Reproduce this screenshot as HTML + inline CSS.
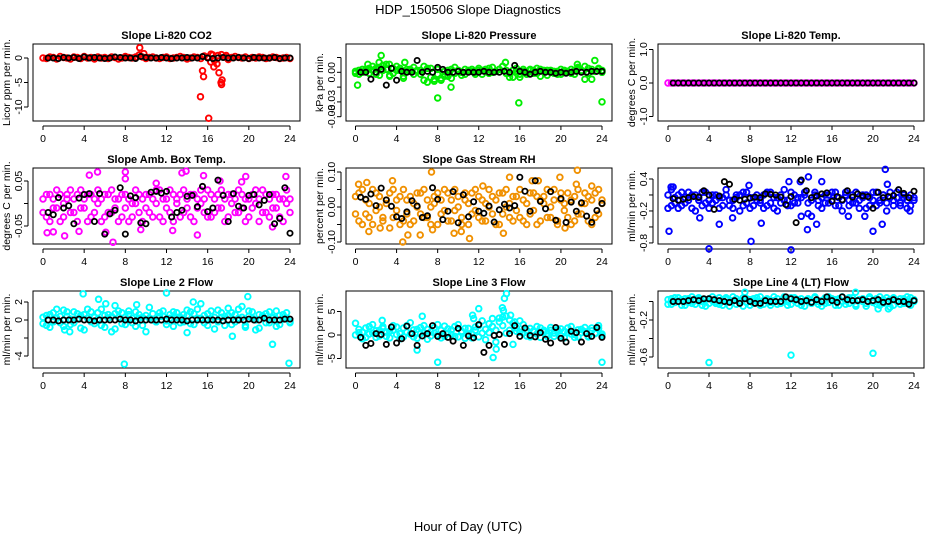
<!DOCTYPE html>
<html><head><meta charset="utf-8">
<style>
html,body{margin:0;padding:0;background:#fff;}
svg{display:block;font-family:"Liberation Sans",sans-serif;}
</style></head>
<body>
<svg id="chart" width="936" height="540" viewBox="0 0 936 540" xmlns="http://www.w3.org/2000/svg">
<text x="468" y="14" text-anchor="middle" font-size="13">HDP_150506  Slope Diagnostics</text>
<text x="468" y="531" text-anchor="middle" font-size="13">Hour of Day (UTC)</text>
</svg>
<script>
// x tick categories
const hourTicks = [0,4,8,12,16,20,24];
const hourLabels = ["0","4","8","12","16","20","24"];

// CO2
const co2Main = [0,-0.1,0.2,0.1,-0.2,0.3,0.1,0,-0.2,0.2,0.1,-0.1,0.3,0,0.1,-0.2,0.2,0,0.1,-0.1,0.2,0.1,-0.2,0,0.3,0.1,0,0.2,0.6,0.2,-0.1,0.1,0.2,0,-0.1,0.1,0.2,-0.1,0,0.1,0.3,0.1,-0.2,0,0.2,0.1,-0.1,0.4,0.2,0.8,-0.5,0.5,0.7,0.2,-0.3,0.1,0.3,0.1,0,0.2,-0.1,0.1,0,0.2,0.1,-0.1,0,0.2,0.1,-0.1,0,0.1,-0.1];
const co2Outliers = [[9.4,2.1],[9.8,0.9],[15.3,-7.9],[15.5,-2.6],[15.6,-3.8],[16.1,-12.3],[16.3,-0.8],[16.6,-1.8],[16.9,-1.2],[17.1,-3.0],[17.3,-5.0],[17.4,-4.5],[17.35,-5.4],[16.5,0.6],[17.8,0.5]];
const co2Black = [0,0,-0.1,0.1,0,0.1,-0.1,0.2,0,0.1,0,-0.1,0,0.2,0.1,0,0,-0.1,0.3,0.1,0,0,0.1,0,-0.1,0,0,0.1,0,0,0.3,0,-0.1,0,0.1,0,0,0.1,0,-0.1,0.1,0,0,0,0.1,-0.1,0,0];

// Pressure
const presMain = [-0.001,0.002,0.003,0.001,0.004,0.006,-0.002,0.005,0.007,0.003,-0.003,0.004,0.006,0.002,-0.004,0.003,0.001,0.005,0.002,-0.002,0.006,0.004,-0.005,-0.007,0.003,-0.008,-0.004,0.002,-0.006,0.005,0.001,-0.003,0.003,0.002,0.001,-0.002,0.004,0.002,0.003,-0.001,0.005,0.001,0.003,0.006,-0.001,-0.001,0.002,0.004,-0.005,0.001,-0.002,0.003,0.002,-0.001,0.003,0.002,-0.003,0.002,0.001,-0.002,0.003,0,0.001,-0.001,0.002,0.004,0.001,0.006,-0.001,0.003,0.001,0.004,0.002];
const presMain2 = [0.001,-0.002,0,0.003,-0.001,0.002,0.004,-0.003,0.002,0.008,-0.004,-0.001,0.002,0.004,-0.006,0.001,0.003,-0.002,0.001,0.002,-0.008,-0.010,0.004,-0.009,-0.002,-0.006,0.001,-0.004,0.003,-0.001,0.002,0,-0.002,0.001,0.003,0,0.002,-0.002,0.001,0.004,0,0.001,0.003,0.006,0.002,-0.005,-0.005,0.001,-0.002,0.003,0,0.002,-0.001,0.004,-0.004,0.001,0.002,0,-0.001,0.001,-0.002,0.002,0.001,0.003,-0.002,0.005,0.002,-0.007,0.004,-0.007,0.001,0.003,0];
const presOutliers = [[0.2,-0.013],[2.5,0.017],[8.0,-0.026],[9.3,-0.015],[15.9,-0.031],[24,-0.030],[1.2,0.008],[2.3,0.010],[14.6,0.010],[23.3,0.012],[21.6,0.008],[3.3,0.008],[4.8,0.010]];
const presBlack = [0,0,-0.007,0,0.003,-0.013,0.004,-0.008,0.001,0,0,0.012,0,0.001,0,0.005,0.003,0,0,0.001,0,0,0,0,0.001,0,0,0,0.001,0,0.007,0.001,0,-0.002,0,0.001,0,0,-0.001,0,-0.001,0,0.001,0,0,0.001,0.001,0.001];

// Li-820 Temp
const tempMain = [0,0,0,0,0,0,0,0,0,0,0,0,0,0,0,0,0,0,0,0,0,0,0,0,0,0,0,0,0,0,0,0,0,0,0,0,0,0,0,0,0,0,0,0,0,0,0,0,0,0,0,0,0,0,0,0,0,0,0,0,0,0,0,0,0,0,0,0,0,0,0,0,0];
const tempBlack = [0,0,0,0,0,0,0,0,0,0,0,0,0,0,0,0,0,0,0,0,0,0,0,0,0,0,0,0,0,0,0,0,0,0,0,0,0,0,0,0,0,0,0,0,0,0,0,0];

// Amb box temp
const ambMain = [0.01,-0.03,0.02,-0.01,0.03,-0.04,0,0.02,-0.02,0.01,-0.04,0.03,-0.01,0.02,-0.03,0.01,0,-0.04,0.02,-0.02,0.03,-0.01,0.01,-0.03,0.02,-0.04,0,0.03,-0.02,0.01,-0.01,0.02,-0.03,0,0.03,-0.04,0.01,-0.02,0.02,0,-0.03,0.03,-0.01,0.02,-0.04,0.01,0,-0.02,0.03,-0.03,0.01,0.02,-0.01,-0.04,0.02,0,-0.02,0.03,-0.01,0.01,-0.03,0.02,0,-0.04,0.03,-0.02,0.01,-0.01,0.02,-0.03,0.01,0.03,-0.02];
const ambMain2 = [-0.02,0.02,-0.04,0.01,-0.01,0.02,-0.03,0.01,0.03,-0.02,0.02,-0.01,0.01,-0.04,0.02,-0.02,0.03,0.01,-0.03,0.02,-0.02,0.01,-0.04,0.02,-0.01,0.01,-0.03,0,0.02,-0.04,0.02,-0.02,0.01,0.03,-0.03,0.01,-0.01,0.03,-0.04,0.01,0.02,-0.02,0.01,-0.03,0.02,-0.01,0.03,0.01,-0.03,0.02,-0.02,-0.01,0.03,0.01,-0.03,0.02,0.01,-0.02,0.02,-0.04,0.01,-0.01,0.03,0.01,-0.02,0.02,-0.03,0.02,-0.01,0.01,-0.04,0,0.01];
const ambOutliers = [[0.4,-0.065],[1.0,-0.063],[2.1,-0.072],[3.5,-0.062],[4.5,0.063],[5.3,0.07],[6.1,-0.064],[6.8,-0.086],[8.0,0.07],[8.0,0.055],[11.0,0.045],[12.6,-0.06],[13.5,0.068],[13.9,0.072],[15.0,-0.07],[15.6,0.062],[17.2,0.05],[19.7,0.06],[22.3,-0.052],[23.6,0.06],[9.5,-0.058],[19.3,0.048]];
const ambBlack = [-0.02,-0.025,0.013,-0.01,-0.005,-0.045,0.012,0.02,0.022,-0.04,0.022,-0.068,-0.023,-0.015,0.035,-0.068,0.017,0.013,-0.043,-0.045,0.025,0.027,0.023,0.027,-0.03,-0.02,-0.015,0.016,0.018,-0.007,0.038,-0.018,-0.01,0.052,0.018,-0.04,0.022,-0.006,-0.01,0.018,0.02,-0.003,0.007,0.02,-0.045,-0.033,0.035,-0.066];

// Gas stream RH
const rhMain = [0.03,-0.04,0.05,-0.02,0.01,-0.05,0.04,0,-0.03,0.02,-0.06,0.05,-0.01,0.03,-0.04,0.02,-0.05,0.01,0.04,-0.02,0.05,-0.03,0,0.03,-0.05,0.02,-0.01,0.04,-0.04,0.05,0,-0.03,0.02,-0.05,0.04,-0.01,0.03,-0.04,0.01,0.05,-0.02,0.02,-0.05,0.04,0,-0.03,0.03,-0.01,0.05,-0.04,0.01,-0.02,0.04,-0.05,0.02,0.03,-0.03,0,0.05,-0.04,0.02,-0.01,0.04,-0.05,0.03,-0.02,0.01,0.04,-0.04,0.02,-0.03,0.05,0.01];
const rhMain2 = [-0.02,0.04,-0.05,0.02,-0.03,0.05,-0.01,0.03,-0.04,0.01,0.04,-0.03,0.02,-0.05,0.05,-0.02,0.03,-0.04,0,0.04,-0.03,0.02,-0.05,0.01,0.04,-0.02,0.05,-0.04,0.02,-0.01,0.03,-0.05,0.04,0.01,-0.02,0.05,-0.03,0.02,-0.04,0,0.03,-0.05,0.04,-0.02,0.05,0.01,-0.04,0.03,-0.03,0.02,-0.05,0.04,-0.01,0.03,-0.04,0.01,0.05,-0.03,0.02,-0.05,0.04,0.01,-0.03,0.02,-0.04,0.05,-0.02,0.01,0.03,-0.05,0.04,-0.02,0.02];
const rhOutliers = [[0.3,0.065],[1.1,0.07],[2.4,-0.06],[3.6,0.075],[4.6,-0.1],[5.1,-0.08],[6.3,-0.08],[7.4,0.1],[7.5,-0.065],[9.6,-0.075],[10.3,-0.07],[11.1,-0.09],[12.4,0.06],[14.4,-0.075],[15.0,0.085],[17.2,0.075],[17.8,0.075],[19.9,0.085],[20.4,-0.06],[21.6,0.105],[21.5,0.065],[23.0,0.06],[1.3,-0.07]];
const rhBlack = [0.028,0.022,0.037,0.004,0.054,0.02,0.002,-0.028,-0.033,-0.014,0.018,0.003,-0.03,-0.025,0.055,0.022,-0.036,-0.012,0.044,-0.045,0.035,-0.028,0.015,-0.012,-0.018,0.003,-0.043,-0.008,0.008,-0.003,0.004,0.085,0.045,-0.012,0.075,0.016,-0.005,0.044,-0.038,0.024,-0.044,0.014,-0.012,0.012,-0.026,-0.044,-0.01,0.01];

// Sample flow
const sfMain = [0.1,-0.1,0.05,-0.15,0.15,-0.05,0,0.1,-0.2,0.05,-0.1,0.15,0,-0.05,0.1,-0.15,0.05,0.2,-0.1,0,0.1,-0.2,0.15,-0.05,0.05,-0.1,0.1,0,-0.15,0.15,-0.05,0.05,-0.2,0.1,0,-0.1,0.15,-0.05,0.05,-0.3,0.1,-0.25,0,0.15,-0.1,0.05,-0.05,0.1,0,0.15,-0.1,-0.2,0.1,0,-0.05,0.15,-0.15,0.05,0.1,-0.1,0,0.15,-0.05,0.1,-0.2,0.05,0,0.15,-0.1,0.05,-0.15,0.1,0];
const sfMain2 = [-0.15,0.2,-0.05,0.1,-0.1,0.05,0.15,-0.15,0.1,0,0.15,-0.05,-0.15,0.1,0,0.05,-0.1,0.1,0,-0.15,0.05,0.1,-0.1,0.15,-0.15,0.05,0,-0.05,0.1,-0.1,0.15,-0.15,0.05,-0.05,0.2,0,-0.1,0.1,-0.05,0.05,0.15,-0.05,-0.3,0.1,0,-0.15,0.1,-0.05,0.15,-0.1,0.05,0,0.15,-0.1,0.1,-0.05,0,0.1,-0.15,0.05,0.15,-0.1,0,0.1,-0.05,0.15,-0.1,0.05,-0.05,0.1,0,-0.1,0.05];
const sfOutliers = [[0.1,-0.58],[0.3,0.25],[0.5,0.25],[3.1,-0.33],[4,-0.91],[5.0,-0.45],[6.3,-0.33],[8.1,-0.77],[7.9,0.28],[9.1,-0.43],[11.8,0.35],[12,-0.93],[12.9,0.35],[13.7,0.44],[13.6,-0.55],[14.5,-0.45],[15,0.35],[17.6,-0.3],[19.2,-0.3],[20,-0.58],[21.2,0.58],[21.4,0.3],[20.9,-0.45],[23.6,-0.2]];
const sfBlack = [0.03,0,0.02,0.05,0.07,0.06,0.18,0.1,-0.17,0.08,0.35,0.3,0.02,0,0.02,0.04,0.06,0.05,0.12,0.11,0.1,0.06,-0.08,0.07,-0.42,0.38,0.18,0.05,0.08,0.12,0.14,-0.02,0.07,0.01,0.18,0.06,0.12,0.08,0.07,-0.15,0.15,0.05,0.07,0.09,0.2,0.13,0.05,0.17];

// Line 2 flow
const l2Main = [-0.4,0.5,-0.8,0.8,0.2,-0.3,1.1,0.4,-0.5,0.9,0.1,-0.9,0.6,1.2,-0.2,0.3,0.8,-0.6,0.5,0.2,-1.3,0.7,1.0,-0.4,0.3,0.6,-0.3,0.9,0.2,-0.6,0.5,1.4,0,-0.2,0.8,0.4,-0.5,0.2,0.9,0.3,-0.3,0.6,1.1,-0.4,0.7,0.2,1.8,0.5,-0.6,1.0,0.3,-0.2,0.8,0.4,1.3,-0.5,0.6,0.2,1.5,-0.8,0.4,0.9,0,-0.9,0.5,0.7,-0.3,0.3,1.0,-0.5,0.6,0.2,-0.3];
const l2Main2 = [0.3,-0.6,0.6,-0.2,1.2,0.4,-0.7,0.9,0.1,-0.3,0.7,0.5,-1.1,0.2,0.9,-0.4,0.1,1.2,-0.8,0.6,0.4,-1.0,0.3,0.8,-0.5,1.0,0.2,-0.7,0.6,0.3,-1.3,0.2,0.7,-0.2,0.4,1.0,-0.1,0.6,-0.7,0.8,0.3,-0.2,0.5,0.9,-0.5,1.2,0.2,-0.3,0.7,0.1,-1.0,1.1,0.3,-0.6,0.5,0.8,-0.2,1.2,0.3,-0.6,1.0,0.2,-1.1,0.6,0.4,-0.3,0.9,0.2,-0.7,0.5,0.1,0.8,-0.2];
const l2Outliers = [[3.9,2.9],[5.4,2.3],[6.1,1.8],[9.1,1.7],[12,3.0],[14.0,-1.4],[14.6,2.0],[18.4,-1.8],[19.9,2.6],[22.3,-2.7],[7.9,-4.9],[23.9,-4.8],[2.1,-1.1],[2.6,-1.3],[7.0,1.6]];
const l2Black = [0,0,-0.1,0,0,0,0.1,0,0,-0.1,0,0,0,0,0.1,0,0,-0.1,0,0,0,0,0,0.1,0,0,0,-0.1,0,0,0,0,0,0,-0.1,0,0,0,0,0.1,0,0,0.2,0,0,0,0.1,0.1];

// Line 3 flow
const l3Main = [2.5,0.5,-0.8,1.5,0.2,2.2,-0.5,1.0,1.8,-0.3,0.8,2.0,0.1,-0.8,1.5,0.6,2.6,-0.4,1.2,0.3,2.0,-0.9,0.7,1.6,0,-0.6,1.9,0.4,1.1,-0.3,2.2,0.8,-0.7,1.4,0.2,1.7,-0.4,3.0,1.2,0.5,3.5,1.0,2.8,3.8,0.4,3.2,2.5,1.5,0.6,2.2,-0.2,1.4,0.7,1.8,-0.5,1.0,0.3,1.6,-0.3,0.9,1.3,-0.6,0.5,1.8,0.1,-0.4,1.2,0.7,-0.2,1.5,0.4,2.0,0.2];
const l3Main2 = [0,1.2,0.6,-0.5,1.8,0.4,0.9,-0.2,1.4,0.6,-0.6,1.0,1.7,0.3,-0.4,2.0,0.2,1.1,-0.7,1.6,0.5,1.2,-0.2,0.4,2.2,1.0,-0.3,1.3,0.1,1.8,-0.4,0.6,1.4,0.2,-0.6,1.0,2.0,0.4,-1.0,2.4,1.8,-1.5,3.6,2.0,4.0,1.0,-2.0,0.8,3.0,0.4,1.0,-0.4,0.9,0.2,1.5,0.6,-0.3,1.0,0.4,1.2,-0.2,0.8,1.5,0.2,-0.5,1.1,0.5,1.6,-0.4,0.9,0.3,1.4,-0.2];
const l3Outliers = [[6,-3.2],[6.5,4.0],[8,-5.8],[11.5,3.5],[11.4,4.2],[12,5.6],[13.4,-4.8],[13.7,-3.0],[14.3,5.8],[14.4,5.2],[14.5,7.8],[14.7,8.8],[15.1,4.2],[15.5,2.8],[24,-5.8],[2.6,3.1]];
const l3Black = [-0.5,-2.2,-1.8,0.3,0.1,-2.0,1.7,-1.7,-0.8,1.9,0.3,-2.2,-0.2,0.3,2.0,-0.3,0.3,-0.5,-1.3,1.4,-2.2,-0.2,-0.6,2.2,-3.7,-2.2,-0.1,0.1,-2.0,0.3,2.0,-0.3,1.5,-0.1,-0.4,0.5,-0.9,-1.7,1.6,-0.7,-1.5,0.8,0.5,-1.5,0.3,-0.3,1.6,-0.5];

// Line 4 flow
const l4Main = [0.02,-0.03,0.04,0,-0.04,0.03,-0.01,0.05,-0.03,0.02,0,-0.05,0.03,0.01,-0.02,0.04,-0.04,0.02,0,0.05,-0.03,0.01,-0.05,0.03,0.02,-0.02,0.04,-0.04,0.01,0.03,-0.01,0.05,-0.03,0,0.02,-0.04,0.04,0.01,-0.02,0.03,-0.05,0.02,0,0.04,-0.03,0.01,-0.02,0.05,0.02,-0.04,0.03,0,-0.03,0.04,0.01,-0.05,0.02,0.03,-0.02,0.05,-0.01,0.03,-0.04,0.02,0,-0.06,0.04,0.01,-0.03,0.03,-0.02,0.04,0];
const l4Main2 = [-0.03,0.03,-0.01,0.04,0.02,-0.04,0.03,-0.02,0.01,0.04,-0.04,0.02,-0.02,0.05,0,-0.03,0.02,0.04,-0.05,0.01,0.03,-0.02,0.04,-0.01,-0.04,0.03,0,0.05,-0.03,0.02,-0.04,0.01,0.03,-0.02,0.05,0,-0.03,0.04,0.02,-0.04,0.01,0.03,-0.02,0.05,0,-0.05,0.04,-0.01,0.03,0.02,-0.04,0.05,0.01,-0.02,0.04,-0.03,0.02,0,-0.05,0.03,0.01,-0.03,0.05,-0.02,0.04,0.02,-0.04,0,0.03,-0.02,0.05,-0.04,0.02];
const l4Outliers = [[4,-0.66],[12,-0.58],[20,-0.56],[7.5,0.1],[18.3,0.1],[20.5,-0.08],[21.5,-0.08]];
const l4Black = [0,0,0,0.01,0.02,0.01,0.03,0.03,0.02,0.01,0,-0.01,0.01,-0.02,0.03,0,-0.02,-0.02,0.01,0,0,0,0.05,0.03,0.02,0,0.01,-0.01,0.02,0,0.05,0.01,-0.01,0.05,0.02,0.01,0.01,0.02,0,0.01,0.02,-0.01,0,0.02,0,0,-0.03,0.01];

// y-axis tick values and labels
const co2Ticks=[0,-5,-10], co2TickLabels=["0","-5","-10"];
const presTicks=[0.015,0,-0.015,-0.03,-0.045], presTickLabels=["","0.00","","-0.03","-0.03"];
const tempTicks=[1,0,-1], tempTickLabels=["1.0","0.0","-1.0"];
const ambTicks=[0.05,0,-0.05], ambTickLabels=["0.05","","-0.05"];
const rhTicks=[0.1,0.05,0,-0.05,-0.1], rhTickLabels=["0.10","","0.00","","-0.10"];
const sfTicks=[0.4,0.1,-0.2,-0.5,-0.8], sfTickLabels=["0.4","","-0.2","","-0.8"];
const l2Ticks=[2,0,-2,-4], l2TickLabels=["2","0","","-4"];
const l3Ticks=[5,0,-5], l3TickLabels=["5","0","-5"];
const l4Ticks=[0,-0.2,-0.4,-0.6], l4TickLabels=["","-0.2","","-0.6"];

const NS="http://www.w3.org/2000/svg";
const svg=document.getElementById('chart');
const colLeft=[33,346,658], colRight=[300,612,924], colX0=[43,355.5,668], colX24=[290,602,914];
const rowTop=[44,168,291], rowBot=[121,244,368];

const panels=[
 {name:'co2',title:'Slope Li-820 CO2',ylab:'Licor ppm per min.',c:0,r:0,y0:58,k:4.9,color:'#ff0000',mains:[co2Main],out:co2Outliers,black:co2Black,ticks:co2Ticks,tl:co2TickLabels},
 {name:'pressure',title:'Slope Li-820 Pressure',ylab:'kPa per min.',c:1,r:0,y0:72.3,k:986.7,color:'#00ee00',mains:[presMain,presMain2],out:presOutliers,black:presBlack,ticks:presTicks,tl:presTickLabels},
 {name:'li820-temp',title:'Slope Li-820 Temp.',ylab:'degrees C per min.',c:2,r:0,y0:83,k:33.5,color:'#ff00ff',mains:[tempMain],out:[],black:tempBlack,ticks:tempTicks,tl:tempTickLabels},
 {name:'amb-box-temp',title:'Slope Amb. Box Temp.',ylab:'degrees C per min.',c:0,r:1,y0:203.5,k:450,color:'#ff00ff',mains:[ambMain,ambMain2],out:ambOutliers,black:ambBlack,ticks:ambTicks,tl:ambTickLabels},
 {name:'gas-stream-rh',title:'Slope Gas Stream RH',ylab:'percent per min.',c:1,r:1,y0:207,k:350,color:'#f09000',mains:[rhMain,rhMain2],out:rhOutliers,black:rhBlack,ticks:rhTicks,tl:rhTickLabels},
 {name:'sample-flow',title:'Slope Sample Flow',ylab:'ml/min per min.',c:2,r:1,y0:200.3,k:53.3,color:'#0000ff',mains:[sfMain,sfMain2],out:sfOutliers,black:sfBlack,ticks:sfTicks,tl:sfTickLabels},
 {name:'line2-flow',title:'Slope Line 2 Flow',ylab:'ml/min per min.',c:0,r:2,y0:320,k:9,color:'#00ffff',mains:[l2Main,l2Main2],out:l2Outliers,black:l2Black,ticks:l2Ticks,tl:l2TickLabels},
 {name:'line3-flow',title:'Slope Line 3 Flow',ylab:'ml/min per min.',c:1,r:2,y0:335,k:4.7,color:'#00ffff',mains:[l3Main,l3Main2],out:l3Outliers,black:l3Black,ticks:l3Ticks,tl:l3TickLabels},
 {name:'line4-flow',title:'Slope Line 4 (LT) Flow',ylab:'ml/min per min.',c:2,r:2,y0:301.5,k:92.5,color:'#00ffff',mains:[l4Main,l4Main2],out:l4Outliers,black:l4Black,ticks:l4Ticks,tl:l4TickLabels}
];

function mk(tag,attrs,parent){const e=document.createElementNS(NS,tag);for(const a in attrs)e.setAttribute(a,attrs[a]);(parent||svg).appendChild(e);return e;}

panels.forEach(p=>{
  const L=colLeft[p.c],R=colRight[p.c],T=rowTop[p.r],B=rowBot[p.r];
  const xs=h=>colX0[p.c]+(colX24[p.c]-colX0[p.c])*h/24;
  const ys=v=>p.y0-v*p.k;
  const g=mk('g',{});
  
  
  const box=mk('rect',{x:L,y:T,width:R-L,height:B-T,fill:'none',stroke:'#000','stroke-width':1},g);
  
  
  const t=mk('text',{x:(L+R)/2,y:T-5,'text-anchor':'middle','font-size':11,'font-weight':'bold'},g);
  t.textContent=p.title;
  
  
  const yl=mk('text',{x:0,y:0,'text-anchor':'middle','font-size':10.5,transform:`translate(${L-23},${(T+B)/2}) rotate(-90)`},g);
  yl.textContent=p.ylab;
  
  
  const xa=mk('g',{},g);
  
  
  mk('line',{x1:xs(hourTicks[0]),x2:xs(hourTicks[hourTicks.length-1]),y1:B+5,y2:B+5,stroke:'#000'},xa);
  hourTicks.forEach((h,i)=>{
    mk('line',{x1:xs(h),x2:xs(h),y1:B+5,y2:B+9,stroke:'#000'},xa);
    const tx=mk('text',{x:xs(h),y:B+21,'text-anchor':'middle','font-size':10.5},xa);
    tx.textContent=hourLabels[i];
  });
  const ya=mk('g',{},g);
  
  
  mk('line',{x1:L-5,x2:L-5,y1:ys(p.ticks[0]),y2:ys(p.ticks[p.ticks.length-1]),stroke:'#000'},ya);
  p.ticks.forEach((v,i)=>{
    mk('line',{x1:L-9,x2:L-5,y1:ys(v),y2:ys(v),stroke:'#000'},ya);
    if(p.tl[i]){
      const tx=mk('text',{x:0,y:0,'text-anchor':'middle','font-size':10.5,transform:`translate(${L-11},${ys(v)}) rotate(-90)`},ya);
      tx.textContent=p.tl[i];
    }
  });
  const mg=mk('g',{fill:'none',stroke:p.color,'stroke-width':1.9},g);
  
  
  p.mains.forEach(arr=>{
    arr.forEach((v,i)=>{
      const h=24*i/(arr.length-1);
      const c=mk('circle',{cx:xs(h),cy:ys(v),r:2.8},mg);
      
      
    });
  });
  p.out.forEach(d=>{
    const c=mk('circle',{cx:xs(d[0]),cy:ys(d[1]),r:2.8},mg);
    
    
  });
  const bg=mk('g',{fill:'none',stroke:'#000','stroke-width':1.8},g);
  
  
  p.black.forEach((v,i)=>{
    const h=0.5+23.5*i/(p.black.length-1);
    const c=mk('circle',{cx:xs(h),cy:ys(v),r:2.6},bg);
    
    
  });
});
</script>
</body></html>
